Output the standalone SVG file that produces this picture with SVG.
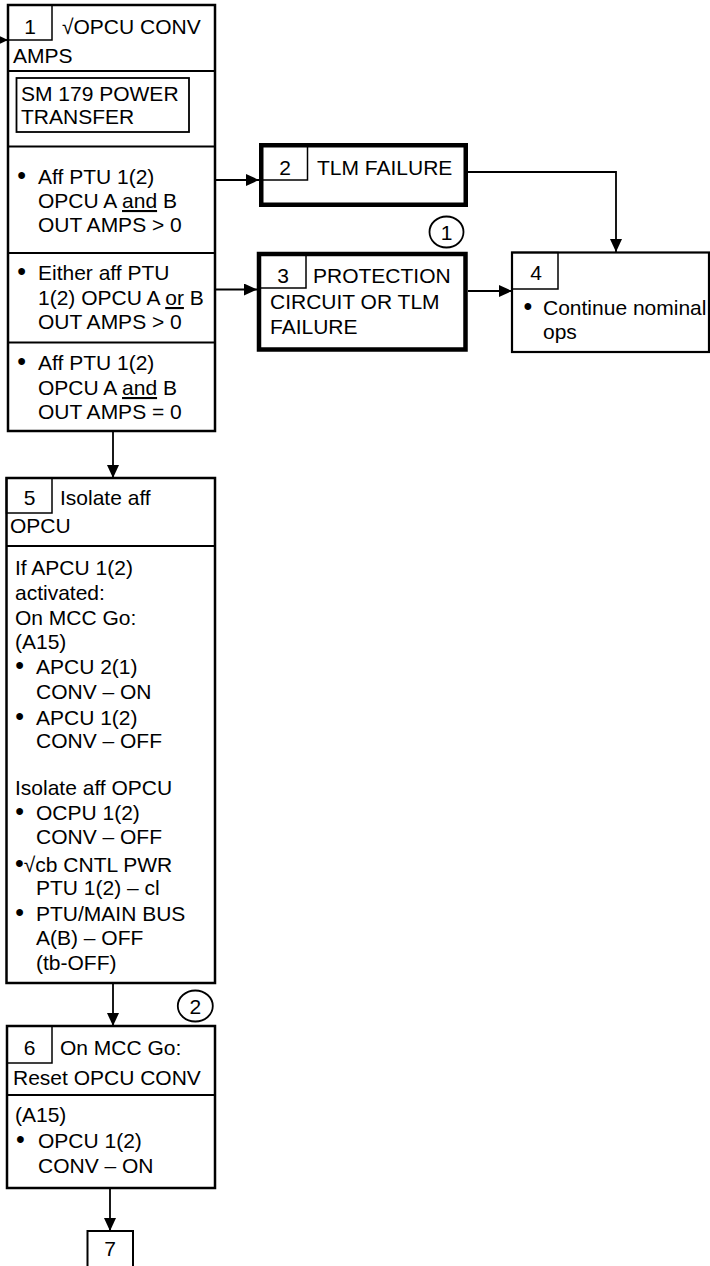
<svg xmlns="http://www.w3.org/2000/svg" width="710" height="1266" viewBox="0 0 710 1266">
<defs>
<marker id="arr" markerUnits="userSpaceOnUse" markerWidth="14" markerHeight="12" viewBox="0 0 14 12" refX="13" refY="6" orient="auto">
<path d="M0,0 L13,6 L0,12 Z" fill="#000"/>
</marker>
<style>
text{font-family:"Liberation Sans",Arial,sans-serif;font-size:21px;fill:#000}
.c{text-anchor:middle}
.b{font-size:25px}
.box{fill:#fff;stroke:#000;stroke-width:2.5}
.thick{fill:#fff;stroke:#000;stroke-width:4.5}
.num{fill:none;stroke:#000;stroke-width:1.5}
.div{stroke:#000;stroke-width:2}
.con{fill:none;stroke:#000;stroke-width:1.8}
.circ{fill:#fff;stroke:#000;stroke-width:1.8}
.u{text-decoration:underline}
</style>
</defs>
<rect width="710" height="1266" fill="#fff"/>

<g id="connectors">
<line class="con" x1="0" y1="40" x2="8" y2="40" marker-end="url(#arr)"/>
<line class="con" x1="215" y1="180" x2="259" y2="180" marker-end="url(#arr)"/>
<line class="con" x1="215" y1="289.5" x2="257" y2="289.5" marker-end="url(#arr)"/>
<polyline class="con" points="468,172 616,172 616,252" marker-end="url(#arr)"/>
<line class="con" x1="468" y1="291" x2="512" y2="291" marker-end="url(#arr)"/>
<line class="con" x1="113" y1="432" x2="113" y2="478" marker-end="url(#arr)"/>
<line class="con" x1="113" y1="983" x2="113" y2="1026" marker-end="url(#arr)"/>
<line class="con" x1="110" y1="1188" x2="110" y2="1231" marker-end="url(#arr)"/>
</g>

<g id="node1">
<rect class="box" x="8" y="5" width="207" height="426"/>
<rect class="num" x="8" y="5" width="44" height="35"/>
<text class="c" x="30" y="34">1</text>
<text x="62" y="34">√OPCU CONV</text>
<text x="13" y="63">AMPS</text>
<line class="div" x1="8" y1="71" x2="215" y2="71"/>
<rect class="num" x="16.5" y="78" width="172.5" height="54" style="stroke-width:1.8"/>
<text x="21" y="101">SM 179 POWER</text>
<text x="21" y="124">TRANSFER</text>
<line class="div" x1="8" y1="146.5" x2="215" y2="146.5"/>
<text class="b" x="17.3" y="184">•</text>
<text x="38" y="184">Aff PTU 1(2)</text>
<text x="38" y="208">OPCU A <tspan class="u">and</tspan> B</text>
<text x="38" y="232">OUT AMPS &gt; 0</text>
<line class="div" x1="8" y1="253" x2="215" y2="253"/>
<text class="b" x="17.3" y="280">•</text>
<text x="38" y="280">Either aff PTU</text>
<text x="38" y="305">1(2) OPCU A <tspan class="u">or</tspan> B</text>
<text x="38" y="329">OUT AMPS &gt; 0</text>
<line class="div" x1="8" y1="342.5" x2="215" y2="342.5"/>
<text class="b" x="17.3" y="370">•</text>
<text x="38" y="370">Aff PTU 1(2)</text>
<text x="38" y="395">OPCU A <tspan class="u">and</tspan> B</text>
<text x="38" y="419">OUT AMPS = 0</text>
</g>

<g id="node2">
<rect class="thick" x="261.25" y="145.25" width="204.5" height="59.5"/>
<rect class="num" x="261" y="145" width="46.5" height="35"/>
<text class="c" x="285" y="175">2</text>
<text x="317" y="175">TLM FAILURE</text>
</g>

<g id="note1">
<ellipse class="circ" cx="446.5" cy="232" rx="17" ry="15.5"/>
<text class="c" x="446.5" y="239.5">1</text>
</g>

<g id="node3">
<rect class="thick" x="259" y="254" width="206.5" height="95.5"/>
<rect class="num" x="259" y="254" width="47" height="34"/>
<text class="c" x="283" y="283">3</text>
<text x="313" y="283">PROTECTION</text>
<text x="270" y="309">CIRCUIT OR TLM</text>
<text x="270" y="334">FAILURE</text>
</g>

<g id="node4">
<rect class="box" x="512" y="252.5" width="197" height="99.5" style="stroke-width:2.2"/>
<rect class="num" x="512" y="252.5" width="46" height="36.5"/>
<text class="c" x="536" y="280">4</text>
<text class="b" x="523.6" y="315">•</text>
<text x="543" y="315">Continue nominal</text>
<text x="543" y="339">ops</text>
</g>

<g id="node5">
<rect class="box" x="6.5" y="478" width="208.5" height="505"/>
<rect class="num" x="6.5" y="478" width="45.5" height="35"/>
<text class="c" x="29.5" y="505">5</text>
<text x="60" y="505">Isolate aff</text>
<text x="10" y="533">OPCU</text>
<line class="div" x1="6.5" y1="546" x2="215" y2="546"/>
<text x="15" y="575">If APCU 1(2)</text>
<text x="15" y="600">activated:</text>
<text x="15" y="625">On MCC Go:</text>
<text x="15" y="649">(A15)</text>
<text class="b" x="15.3" y="674">•</text>
<text x="36" y="674">APCU 2(1)</text>
<text x="36" y="699">CONV – ON</text>
<text class="b" x="15.3" y="725">•</text>
<text x="36" y="725">APCU 1(2)</text>
<text x="36" y="748">CONV – OFF</text>
<text x="15" y="795">Isolate aff OPCU</text>
<text class="b" x="15.3" y="820">•</text>
<text x="36" y="820">OCPU 1(2)</text>
<text x="36" y="844">CONV – OFF</text>
<text x="15" y="872"><tspan class="b">•</tspan>√cb CNTL PWR</text>
<text x="36" y="895">PTU 1(2) – cl</text>
<text class="b" x="15.3" y="921">•</text>
<text x="36" y="921">PTU/MAIN BUS</text>
<text x="36" y="945">A(B) – OFF</text>
<text x="36" y="970">(tb-OFF)</text>
</g>

<g id="note2">
<ellipse class="circ" cx="195.3" cy="1006" rx="17.5" ry="15.5"/>
<text class="c" x="195.3" y="1013.5">2</text>
</g>

<g id="node6">
<rect class="box" x="7" y="1026" width="208" height="162"/>
<rect class="num" x="7" y="1026" width="45" height="37"/>
<text class="c" x="29.5" y="1055">6</text>
<text x="60" y="1055">On MCC Go:</text>
<text x="13" y="1085">Reset OPCU CONV</text>
<line class="div" x1="7" y1="1095" x2="215" y2="1095"/>
<text x="15" y="1122">(A15)</text>
<text class="b" x="16" y="1148">•</text>
<text x="38" y="1148">OPCU 1(2)</text>
<text x="38" y="1173">CONV – ON</text>
</g>

<g id="node7">
<rect class="box" x="87.5" y="1231" width="45.5" height="50" style="stroke-width:2"/>
<text class="c" x="110" y="1256">7</text>
</g>
</svg>
